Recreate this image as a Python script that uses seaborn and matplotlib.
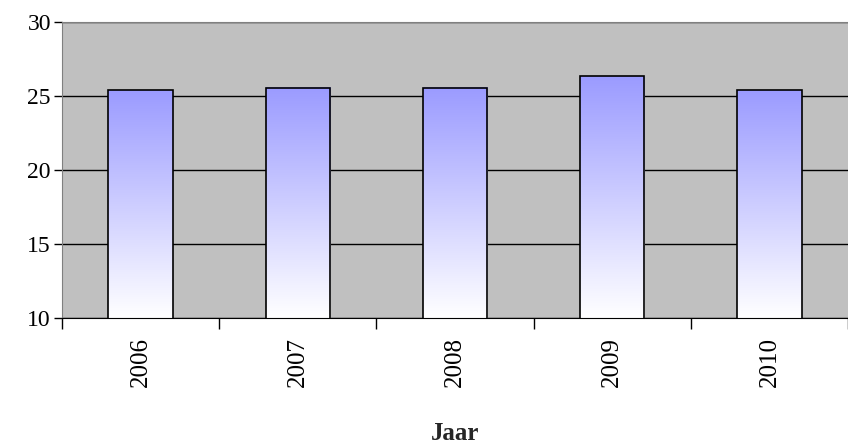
import seaborn as sns
import numpy as np
import pandas as pd
import matplotlib.pyplot as plt

years = ['2006', '2007', '2008', '2009', '2010']
values = [25.4, 25.55, 25.55, 26.35, 25.4]

df = pd.DataFrame({'Jaar': years, 'waarde': values})

sns.set_style('white')
plt.rcParams['font.family'] = ['Liberation Serif', 'DejaVu Serif']
plt.rcParams['text.color'] = 'black'
plt.rcParams['xtick.color'] = 'black'
plt.rcParams['ytick.color'] = 'black'

fig = plt.figure(figsize=(8.48, 4.48), dpi=100)
ax = fig.add_axes([62/848, 1 - 318/448, 1 - 62/848, 296/448])
ax.set_facecolor('#c0c0c0')

sns.barplot(data=df, x='Jaar', y='waarde', width=0.41, color='white',
            edgecolor='black', linewidth=1.2, ax=ax, zorder=3)

ax.set_ylim(10, 30)
ax.set_xlim(-0.5, len(years) - 0.5)

# gradient fill: blue on top, white at bottom
grad = np.linspace(0, 1, 256).reshape(-1, 1)
top = np.array([155, 155, 255]) / 255
bot = np.array([1.0, 1.0, 1.0])
img = grad[..., None] * top + (1 - grad[..., None]) * bot
for p in list(ax.patches):
    p.set_facecolor('none')
    x0 = p.get_x()
    w, h = p.get_width(), p.get_y() + p.get_height()
    ax.imshow(img, extent=[x0, x0 + w, 10, h], origin='lower', aspect='auto', zorder=2.5)
ax.set_xlim(-0.5, len(years) - 0.5)
ax.set_ylim(10, 30)

ax.set_yticks([10, 15, 20, 25, 30])
ax.yaxis.grid(True, color='black', linewidth=1, zorder=1)
ax.set_axisbelow(True)
ax.tick_params(axis='y', length=6, width=1, color='black', labelsize=17, pad=2, left=True)
ax.set_xticks(np.arange(len(years)))
ax.set_xticklabels(years, rotation=90)
ax.tick_params(axis='x', which='major', length=0, labelsize=18, pad=14)
ax.set_xticks(np.arange(-0.5, len(years)), minor=True)
ax.tick_params(axis='x', which='minor', length=8, width=1, color='black', bottom=True)

for s in ['top', 'left']:
    ax.spines[s].set_color('#808080')
ax.spines['right'].set_visible(False)
ax.spines['bottom'].set_color('black')

ax.set_ylabel('')
ax.set_xlabel('Jaar', fontsize=18, fontweight='bold', labelpad=25)

fig.savefig('out.png', dpi=100)
